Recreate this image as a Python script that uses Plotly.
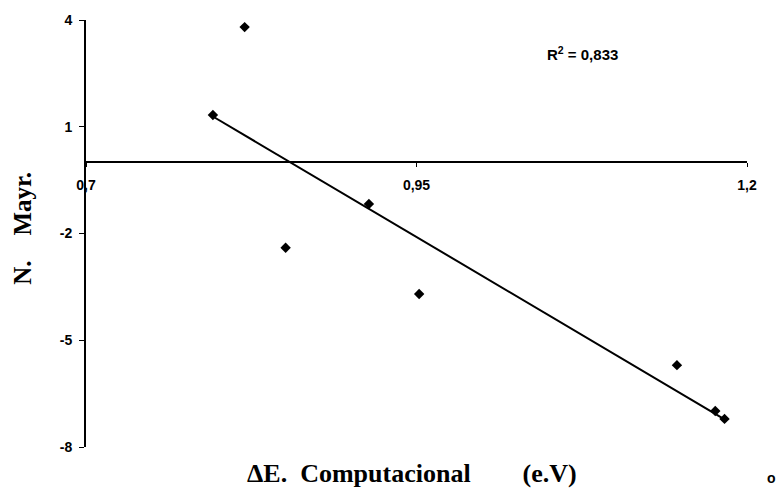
import numpy as np
import plotly.graph_objects as go

# Data
delta_e = [0.796, 0.820, 0.851, 0.914, 0.952, 1.147, 1.176, 1.183]
n_mayr = [1.33, 3.80, -2.40, -1.17, -3.70, -5.70, -6.99, -7.21]

x_tickvals = [0.7, 0.95, 1.2]
x_ticktext = ["0,7", "0,95", "1,2"]
y_tickvals = [4, 1, -2, -5, -8]
y_ticktext = ["4", "1", "-2", "-5", "-8"]
r2_label = "0,833"

# Linear trend line
slope, intercept = np.polyfit(delta_e, n_mayr, 1)
line_x = [min(delta_e), max(delta_e)]
line_y = [slope * v + intercept for v in line_x]

fig = go.Figure()
fig.add_trace(go.Scatter(x=line_x, y=line_y, mode="lines",
                         line=dict(color="black", width=2), showlegend=False))
fig.add_trace(go.Scatter(x=delta_e, y=n_mayr, mode="markers",
                         marker=dict(symbol="diamond", size=8, color="black"),
                         showlegend=False))

tick_font = dict(family="Liberation Sans, Arial", size=14, color="black")
y_title_font = dict(family="Liberation Serif, Times New Roman", size=25, color="black")
x_title_font = dict(family="Liberation Serif, Times New Roman", size=26, color="black")

fig.update_layout(
    width=780, height=489, autosize=False,
    margin=dict(l=86, r=33, t=20, b=42),
    paper_bgcolor="white", plot_bgcolor="white",
    separators=",.",
    xaxis=dict(range=[0.7, 1.2], tickmode="array", tickvals=x_tickvals,
               ticktext=[f"<b>{t}</b>" for t in x_ticktext],
               showline=True, linecolor="black", linewidth=2, ticks="outside", ticklen=4,
               tickcolor="black", tickwidth=1, showgrid=False, zeroline=False,
               anchor="free", position=8 / 12, tickfont=tick_font, ticklabelstandoff=6),
    yaxis=dict(range=[-8, 4], tickmode="array", tickvals=y_tickvals,
               ticktext=[f"<b>{t}</b>" for t in y_ticktext],
               showline=True, linecolor="black", linewidth=2, ticks="outside", ticklen=5,
               tickcolor="black", tickwidth=1, showgrid=False, zeroline=False,
               tickfont=tick_font, ticklabelstandoff=4),
    annotations=[
        dict(x=1.0754, y=3.07, xref="x", yref="y", showarrow=False,
             xanchor="center", yanchor="middle",
             text=f"<b>R<sup>2</sup> = {r2_label}</b>",
             font=dict(family="Liberation Sans, Arial", size=15, color="black")),
        dict(x=-0.0961, y=0.512, xref="paper", yref="paper", showarrow=False,
             xanchor="center", yanchor="middle",
             text="<b>N.\u00a0\u00a0\u00a0\u00a0Mayr.</b>", textangle=-90, font=y_title_font),
        dict(x=0.4932, y=-0.0632, xref="paper", yref="paper", showarrow=False,
             xanchor="center", yanchor="middle",
             text="<b>\u0394E.\u00a0\u00a0Computacional\u00a0\u00a0\u00a0\u00a0\u00a0\u00a0\u00a0\u00a0(e.V)</b>",
             font=x_title_font),
        dict(x=1.0378, y=-0.0726, xref="paper", yref="paper", showarrow=False,
             xanchor="center", yanchor="middle", borderpad=0,
             text="<b>o</b>", font=dict(family="Liberation Sans, Arial", size=14, color="black")),
    ],
)

fig.write_html("out.html")
